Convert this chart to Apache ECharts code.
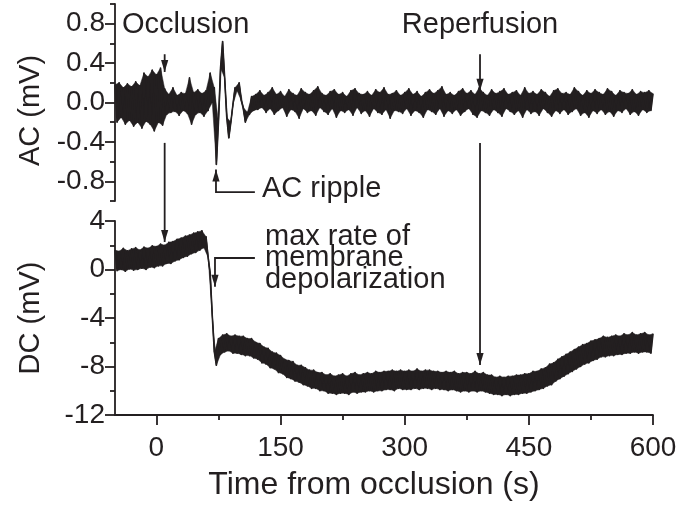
<!DOCTYPE html>
<html><head><meta charset="utf-8">
<script src="https://cdn.jsdelivr.net/npm/echarts@6/dist/echarts.min.js"></script>
<style>html,body{margin:0;padding:0;background:#fff}#c{width:690px;height:505px}</style>
</head><body><div id="c"></div>
<script>
// ---- axis ticks ----
const xTicks = [0, 150, 300, 450, 600];
const xMinor = [75, 225, 375, 525];
const acTicks = [-0.8, -0.4, 0, 0.4, 0.8];
const acMinor = [-1, -0.6, -0.2, 0.2, 0.6, 1];
const dcTicks = [-12, -8, -4, 0, 4];

// ---- traces: sampled every 5 s from -50 s; "hi" at t, "lo" at t+2.5 s ----
const sampleStart = -50, sampleStep = 5;
const acHi = [
 .18,.2,.15,.19,.16,.21,.17,.3,.26,.33,
 .28,.35,.14,.08,.15,.07,.1,.09,.25,.1,
 .13,.09,.12,.3,.15,-.2,.62,-.15,-.2,.15,
 .2,-.05,-.1,.06,.08,.12,.07,.1,.15,.08,
 .11,.06,.13,.09,.07,.14,.1,.08,.12,.16,
 .09,.07,.11,.13,.08,.1,.06,.12,.14,.09,
 .08,.11,.07,.13,.1,.15,.08,.09,.12,.07,
 .1,.14,.08,.11,.06,.1,.13,.09,.12,.16,
 .08,.1,.07,.11,.14,.09,.12,.08,.15,.1,
 .07,.13,.09,.11,.14,.08,.1,.12,.07,.15,
 .09,.11,.08,.13,.1,.06,.12,.14,.09,.1,
 .08,.15,.11,.07,.12,.09,.13,.1,.08,.14,
 .11,.07,.12,.1,.09,.13,.08,.11,.1,.12,
 .09];
const acLo = [
 -.2,-.15,-.22,-.18,-.24,-.2,-.26,-.19,-.22,-.29,
 -.2,-.23,-.12,-.1,-.09,-.13,-.08,-.11,-.22,-.12,
 -.1,-.14,-.08,0,-.63,.35,.25,-.36,-.02,.12,
 .02,-.2,-.12,-.08,-.07,-.05,-.1,-.06,-.12,-.08,
 -.05,-.14,-.07,-.09,-.16,-.06,-.1,-.08,-.13,-.05,
 -.09,-.12,-.06,-.15,-.08,-.1,-.07,-.13,-.05,-.11,
 -.08,-.14,-.06,-.1,-.12,-.07,-.16,-.08,-.09,-.11,
 -.06,-.13,-.08,-.1,-.15,-.07,-.09,-.12,-.06,-.14,
 -.08,-.11,-.07,-.13,-.09,-.06,-.12,-.15,-.08,-.1,
 -.13,-.07,-.1,-.14,-.06,-.09,-.12,-.08,-.15,-.07,
 -.11,-.09,-.13,-.06,-.1,-.14,-.08,-.11,-.07,-.12,
 -.09,-.06,-.13,-.1,-.15,-.08,-.11,-.07,-.12,-.09,
 -.14,-.08,-.1,-.06,-.12,-.09,-.13,-.07,-.1,-.08,
 -.09];
const dcHi = [
 1.6,1.5,1.75,1.55,1.7,1.8,1.6,1.85,1.75,1.95,
 1.9,2.1,2.0,2.25,2.3,2.5,2.6,2.75,2.85,3.0,
 3.1,3.2,2.7,-0.3,-6.8,-5.7,-5.4,-5.3,-5.5,-5.4,
 -5.5,-5.5,-5.7,-5.7,-6.0,-6.1,-6.4,-6.5,-6.8,-6.9,
 -7.1,-7.4,-7.5,-7.6,-7.9,-7.9,-8.1,-8.3,-8.3,-8.5,
 -8.5,-8.7,-8.6,-8.8,-8.7,-8.6,-8.8,-8.6,-8.5,-8.7,
 -8.6,-8.5,-8.6,-8.4,-8.5,-8.4,-8.4,-8.3,-8.4,-8.3,
 -8.4,-8.3,-8.4,-8.2,-8.4,-8.3,-8.3,-8.4,-8.4,-8.5,
 -8.4,-8.5,-8.4,-8.6,-8.5,-8.5,-8.6,-8.4,-8.6,-8.5,
 -8.7,-8.7,-8.9,-8.8,-8.9,-8.8,-8.8,-8.7,-8.7,-8.6,
 -8.6,-8.4,-8.4,-8.2,-8.1,-7.8,-7.7,-7.4,-7.2,-7.0,
 -6.8,-6.6,-6.4,-6.2,-6.1,-5.9,-5.8,-5.7,-5.5,-5.6,
 -5.5,-5.4,-5.5,-5.3,-5.4,-5.2,-5.4,-5.3,-5.2,-5.4,
 -5.3];
const dcLo = [
 -0.1,0,-0.15,0.05,-0.05,0,0.1,0,0.2,0.15,
 0.3,0.3,0.5,0.5,0.7,0.8,1.0,1.1,1.3,1.4,
 1.6,1.8,1.0,-3.8,-7.9,-7.0,-6.8,-6.7,-6.9,-6.9,
 -7.0,-7.1,-7.1,-7.3,-7.4,-7.7,-7.8,-8.1,-8.2,-8.5,
 -8.6,-8.9,-9.0,-9.2,-9.3,-9.5,-9.6,-9.8,-9.8,-10.0,
 -10.0,-10.2,-10.2,-10.3,-10.2,-10.2,-10.3,-10.1,-10.2,-10.1,
 -10.1,-10.0,-10.1,-10.0,-10.0,-9.9,-9.9,-10.0,-9.8,-9.9,
 -9.9,-9.9,-9.8,-9.9,-9.8,-9.8,-9.9,-9.8,-9.9,-9.9,
 -10.0,-9.9,-10.0,-10.1,-10.0,-10.1,-10.0,-10.1,-10.0,-10.1,
 -10.2,-10.3,-10.3,-10.4,-10.3,-10.4,-10.3,-10.3,-10.2,-10.2,
 -10.1,-10.0,-9.9,-9.8,-9.6,-9.5,-9.2,-9.0,-8.8,-8.6,
 -8.4,-8.2,-8.0,-7.8,-7.7,-7.5,-7.4,-7.2,-7.2,-7.1,
 -7.1,-7.0,-7.0,-6.9,-6.9,-6.8,-6.9,-6.8,-6.8,-6.9,
 -6.9];

const ink = '#231f20';
const FONT = '"Liberation Sans", Arial, Helvetica, sans-serif';

function trace(hi, lo) {
  const d = [];
  for (let i = 0; i < hi.length; i++) {
    const t = sampleStart + sampleStep * i;
    d.push([t, hi[i]]);
    if (t + sampleStep / 2 <= 600) d.push([t + sampleStep / 2, lo[i]]);
  }
  return d;
}
const acData = trace(acHi, acLo);
const dcData = trace(dcHi, dcLo);

// filled band: the area swept by each three consecutive samples of the trace
function bandSeries(xi, yi, data) {
  return {
    type: 'custom', xAxisIndex: xi, yAxisIndex: yi, data: data, silent: true,
    encode: {x: 0, y: 1},
    renderItem: function (params, api) {
      const i = params.dataIndex;
      if (i + 2 >= data.length) return null;
      const pts = [data[i], data[i + 1], data[i + 2]].map(p => api.coord(p));
      return {type: 'polygon', shape: {points: pts}, style: {fill: ink, stroke: ink, lineWidth: 0.5}};
    }
  };
}

const chart = echarts.init(document.getElementById('c'), null, {renderer: 'canvas'});
const lab = {color: ink, fontSize: 28, fontFamily: FONT};
const axLine = {show: true, onZero: false, lineStyle: {color: ink, width: 1.8}};
const noLine = {show: false, onZero: false};

chart.setOption({
  animation: false,
  backgroundColor: '#fff',
  grid: [
    {left: 115, right: 37, top: 4, height: 197},
    {left: 115, right: 37, top: 221, height: 194}
  ],
  xAxis: [
    {gridIndex: 0, type: 'value', min: -50, max: 600, show: false},
    {gridIndex: 1, type: 'value', min: -50, max: 600, position: 'bottom',
      axisLine: axLine,
      axisTick: {show: true, customValues: xTicks, length: 10, lineStyle: {color: ink, width: 1.8}},
      axisLabel: {show: true, customValues: xTicks, margin: 19, ...lab},
      splitLine: {show: false},
      name: 'Time from occlusion (s)', nameLocation: 'middle', nameGap: 54,
      nameTextStyle: {color: ink, fontSize: 32, fontFamily: FONT, padding: [0, 20, 0, 0]}
    },
    {gridIndex: 1, type: 'value', min: -50, max: 600, position: 'bottom',
      axisLine: noLine,
      axisTick: {show: true, customValues: xMinor, length: 5, lineStyle: {color: ink, width: 1.8}},
      axisLabel: {show: false}, splitLine: {show: false}
    }
  ],
  yAxis: [
    {gridIndex: 0, type: 'value', min: -1, max: 1, position: 'left',
      axisLine: axLine,
      axisTick: {show: true, customValues: acTicks, length: 10, lineStyle: {color: ink, width: 1.8}},
      axisLabel: {show: true, customValues: acTicks, margin: 10, formatter: v => v.toFixed(1), ...lab},
      splitLine: {show: false},
      name: 'AC (mV)', nameLocation: 'middle', nameGap: 70, nameRotate: 90,
      nameTextStyle: {color: ink, fontSize: 29, fontFamily: FONT, padding: [0, 16, 0, 0]}
    },
    {gridIndex: 0, type: 'value', min: -1, max: 1, position: 'left',
      axisLine: noLine,
      axisTick: {show: true, customValues: acMinor, length: 5, lineStyle: {color: ink, width: 1.8}},
      axisLabel: {show: false}, splitLine: {show: false}
    },
    {gridIndex: 1, type: 'value', min: -12, max: 4, interval: 4, position: 'left',
      axisLine: axLine,
      axisTick: {show: true, length: 10, lineStyle: {color: ink, width: 1.8}},
      minorTick: {show: true, splitNumber: 2, length: 5, lineStyle: {color: ink, width: 1.8}},
      axisLabel: {show: true, margin: 10, ...lab},
      splitLine: {show: false}, minorSplitLine: {show: false},
      name: 'DC (mV)', nameLocation: 'middle', nameGap: 70, nameRotate: 90,
      nameTextStyle: {color: ink, fontSize: 29, fontFamily: FONT}
    }
  ],
  series: [
    bandSeries(0, 0, acData),
    bandSeries(1, 2, dcData),
    {type: 'line', xAxisIndex: 0, yAxisIndex: 0, data: acData,
      showSymbol: false, symbol: 'none', lineStyle: {color: ink, width: 1.6, join: 'round'}, sampling: null},
    {type: 'line', xAxisIndex: 1, yAxisIndex: 2, data: dcData,
      showSymbol: false, symbol: 'none', lineStyle: {color: ink, width: 1.6, join: 'round'}, sampling: null}
  ]
});

// ---- annotations (positioned in data coordinates) ----
const acPx = (t, v) => chart.convertToPixel({xAxisIndex: 0, yAxisIndex: 0}, [t, v]);
const dcPx = (t, v) => chart.convertToPixel({xAxisIndex: 1, yAxisIndex: 2}, [t, v]);
const occT = 10, repT = 391, rippleT = 72, rateT = 70.8, elbowEndT = 119;

function poly(points) {
  return {type: 'polyline', silent: true, shape: {points}, style: {stroke: ink, lineWidth: 1.8, fill: null}};
}
function head(tip, dir) {
  const w = 3.6, l = 12;
  return {type: 'polygon', silent: true,
    shape: {points: [[tip[0], tip[1]], [tip[0] - w, tip[1] - dir * l], [tip[0] + w, tip[1] - dir * l]]},
    style: {fill: ink}};
}
function txt(p, text, align) {
  return {type: 'text', silent: true, x: p[0], y: p[1],
    style: {text, fill: ink, font: '29px ' + FONT, textAlign: align, align: align,
      textVerticalAlign: 'middle', verticalAlign: 'middle'}};
}

const g = [];
// Occlusion
g.push(poly([acPx(occT, 0.49), acPx(occT, 0.31)]), head(acPx(occT, 0.31), 1));
g.push(poly([acPx(occT, -0.41), dcPx(occT, 2.27)]), head(dcPx(occT, 2.27), 1));
g.push(txt(acPx(-41.5, 0.79), 'Occlusion', 'left'));
// Reperfusion
g.push(poly([acPx(repT, 0.49), acPx(repT, 0.12)]), head(acPx(repT, 0.12), 1));
g.push(poly([acPx(repT, -0.41), dcPx(repT, -7.88)]), head(dcPx(repT, -7.88), 1));
g.push(txt(acPx(repT, 0.79), 'Reperfusion', 'center'));
// AC ripple
g.push(poly([acPx(rippleT, -0.68), acPx(rippleT, -0.91), acPx(elbowEndT, -0.91)]), head(acPx(rippleT, -0.68), -1));
g.push(txt(acPx(127.6, -0.88), 'AC ripple', 'left'));
// max rate of membrane depolarization
g.push(poly([dcPx(elbowEndT, 0.95), dcPx(rateT, 0.95), dcPx(rateT, -1.42)]), head(dcPx(rateT, -1.42), 1));
g.push(txt(dcPx(131.2, 2.7), 'max rate of', 'left'));
g.push(txt(dcPx(131.2, 0.92), 'membrane', 'left'));
g.push(txt(dcPx(131.2, -0.87), 'depolarization', 'left'));

chart.setOption({graphic: g});
</script></body></html>
